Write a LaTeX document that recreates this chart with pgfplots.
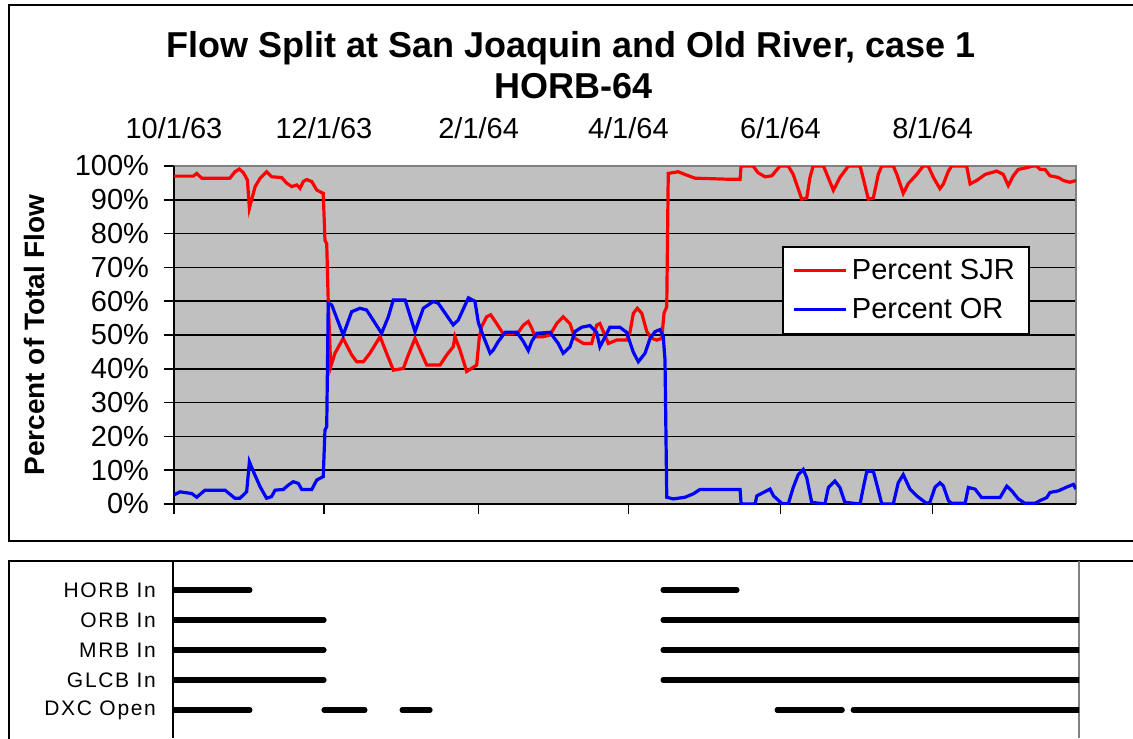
\documentclass[border=0pt]{standalone}
\usepackage{fontspec}
\setmainfont{Liberation Sans}
\newfontfamily\spaced[LetterSpace=8]{Liberation Sans}
\usepackage{pgfplots}
\pgfplotsset{compat=1.18}
\usepackage{pgfplotstable}
\definecolor{plotgray}{RGB}{192,192,192}
\definecolor{bordergray}{RGB}{128,128,128}

\pgfplotstableread{
day sjr
0.88 97.0
8.6 97.0
10.0 97.8
12.0 96.4
23.3 96.4
25.3 98.3
27.1 99.1
28.7 98.0
30.3 95.9
31.1 87.5
32.0 90.0
33.4 93.9
35.4 96.4
38.0 98.3
40.0 96.8
44.0 96.6
46.1 94.9
48.1 93.9
50.1 94.4
51.4 93.4
52.7 95.4
54.1 96.0
56.1 95.4
58.1 92.9
60.7 91.9
61.4 78.0
62.1 77.0
62.7 60.0
63.7 40.6
65.4 44.6
68.7 49.0
72.1 44.1
74.1 42.1
76.8 42.1
79.4 44.6
83.5 49.5
86.1 44.6
88.8 39.6
92.8 40.1
94.8 44.1
97.5 49.0
99.5 45.6
102.2 41.1
107.5 41.1
110.2 44.1
112.8 46.5
113.5 49.5
115.5 45.6
118.2 39.2
122.2 41.1
123.3 49.5
124.2 52.5
126.2 55.4
127.8 56.0
130.2 53.4
132.9 50.3
135.6 50.3
138.9 50.8
140.9 52.9
142.9 54.0
144.3 52.0
145.6 49.5
148.9 49.5
151.6 50.0
154.3 53.4
156.9 55.4
159.6 53.4
161.6 49.0
165.0 47.5
168.3 47.5
170.3 52.9
171.6 53.4
173.0 51.0
175.0 47.5
178.3 48.5
182.3 48.5
183.7 51.0
185.0 56.4
186.6 57.9
188.4 56.4
190.4 51.0
192.4 49.0
194.4 48.5
196.4 49.0
197.3 56.4
198.4 58.4
199.0 97.8
203.0 98.3
206.4 97.3
209.7 96.4
222.4 96.1
227.8 96.1
228.2 100
233.0 100
235.0 98.0
237.8 96.8
240.5 97.1
243.8 100
247.1 100
249.1 97.5
252.5 90.2
254.5 90.5
255.8 96.6
257.1 100
261.2 100
262.5 97.7
265.2 92.8
267.8 96.6
271.2 100
275.9 100
277.2 96.2
279.2 90.2
281.2 90.5
283.2 97.6
284.6 100
289.2 100
290.6 97.6
293.2 91.9
295.2 94.8
298.6 97.5
301.2 100
303.2 100
305.3 96.6
307.9 93.3
309.3 94.7
311.3 98.5
312.6 100
318.6 100
320.0 94.7
322.6 95.7
326.0 97.5
330.7 98.5
333.3 97.5
335.3 94.2
337.3 97.1
339.3 99.0
342.0 99.4
345.3 100
346.7 100
348.0 99.0
350.0 99.0
352.0 97.1
355.4 96.6
357.4 95.7
360.0 95.2
362.45 95.7
}\sjrdata

\pgfplotstableread{
day or
0.88 2.7
3.3 3.6
8.0 3.1
10.0 2.0
13.3 4.1
21.3 4.1
25.3 1.7
27.3 1.7
30.0 3.6
31.1 12.5
32.7 9.6
35.4 5.1
38.0 1.7
40.0 2.2
41.4 4.1
44.7 4.3
46.7 5.6
48.7 6.6
50.7 6.1
52.1 4.3
56.1 4.3
58.1 7.1
60.7 8.1
61.4 21.9
62.1 22.9
62.7 59.4
64.1 58.9
68.7 50.0
72.1 56.9
75.4 57.9
78.1 57.4
84.1 50.5
86.8 55.4
88.8 60.4
93.5 60.4
97.5 51.0
100.8 57.9
104.8 59.9
106.8 59.4
112.8 53.0
114.8 54.4
118.9 61.0
121.5 60.0
122.9 53.6
124.9 49.6
127.6 44.6
128.9 45.6
130.9 48.1
133.6 50.8
138.3 50.8
140.9 48.1
142.9 45.4
144.3 48.1
146.3 50.5
151.6 50.8
154.9 47.5
156.9 44.6
159.6 46.5
161.6 51.0
164.3 52.3
167.6 52.8
170.3 50.8
171.6 46.5
173.0 48.5
175.6 52.3
179.6 52.3
182.3 50.8
185.0 44.9
187.0 42.1
189.7 44.6
191.7 49.0
193.7 51.0
195.7 51.6
197.0 49.5
197.7 42.6
198.4 2.0
201.0 1.5
205.7 2.0
209.0 3.0
211.7 4.3
227.8 4.3
228.2 0
233.8 0
234.5 2.4
237.1 3.4
239.8 4.4
241.2 2.4
244.5 0.2
247.1 0
249.1 4.9
251.1 8.7
253.1 10.2
254.5 7.8
256.5 0.5
261.8 0
263.2 4.9
265.8 6.8
267.8 4.9
269.8 0.5
275.9 0
277.2 4.9
278.6 9.7
281.2 9.7
282.6 5.8
284.6 0
289.2 0
291.2 6.3
293.2 8.7
295.9 4.4
298.6 2.4
302.5 0.2
303.9 0.5
305.9 4.9
307.9 6.3
309.3 5.3
311.3 1.0
312.6 0.2
318.0 0.2
319.3 4.9
322.0 4.4
324.6 1.9
332.0 1.9
334.7 5.3
336.7 3.9
339.3 1.5
342.0 0.2
346.0 0.2
348.0 1.0
350.7 1.9
352.0 3.4
355.4 3.9
358.7 5.0
361.4 5.8
362.45 4.4
}\ordata

\begin{document}
\begin{tikzpicture}
\useasboundingbox (0,0) rectangle (566.5pt,-369pt);
\begin{scope}
\clip (0,0) rectangle (566.5pt,-369pt);
\draw[black, line width=1pt] (4.5pt,-2.5pt) rectangle (580pt,-270.5pt);
\draw[black, line width=1pt] (4.5pt,-280.5pt) rectangle (580pt,-380pt);
\end{scope}
\node[font=\fontsize{18}{20}\selectfont\bfseries, anchor=base] at (285.5pt,-29pt) {Flow Split at San Joaquin and Old River, case 1};
\node[font=\fontsize{18}{20}\selectfont\bfseries, anchor=base] at (287pt,-49pt) {HORB-64};

\begin{axis}[
  at={(87pt,-252pt)}, anchor=south west,
  scale only axis, width=451pt, height=169pt,
  xmin=0.88, xmax=362.45, ymin=0, ymax=100,
  xtick={0.88,61,123,183,244,305},
  xticklabels={10/1/63,12/1/63,2/1/64,4/1/64,6/1/64,8/1/64},
  xtick pos=left, xticklabel pos=right,
  ytick={0,10,20,30,40,50,60,70,80,90,100},
  yticklabels={0\%,10\%,20\%,30\%,40\%,50\%,60\%,70\%,80\%,90\%,100\%},
  ytick pos=left,
  tick align=outside, major tick length=5pt,
  tick style={black, line width=0.8pt},
  ymajorgrids, grid style={black, line width=0.8pt},
  axis line style={draw=none},
  axis background/.style={fill=plotgray},
  clip mode=individual,
  tick label style={font=\fontsize{14.5}{16}\selectfont},
  xticklabel style={anchor=base, yshift=9pt},
  yticklabel style={xshift=-4pt},
  ylabel={Percent of Total Flow},
  ylabel style={font=\fontsize{14}{16}\selectfont\bfseries, at={(axis description cs:-0.1552,0.5)}, anchor=center},
  legend style={at={(rel axis cs:0.674,0.763)}, anchor=north west, draw=black, line width=0.8pt, fill=white,
    font=\fontsize{14.5}{16}\selectfont, inner xsep=5pt, inner ysep=4pt, row sep=4pt,
    /tikz/every even column/.append style={column sep=5pt}},
  legend cell align=left,
  legend image code/.code={\draw[#1] (0pt,0pt) -- (26pt,0pt);},
]
\draw[bordergray, line width=0.8pt] (rel axis cs:0,1) -- (rel axis cs:1,1) -- (rel axis cs:1,0);
\draw[black, line width=0.8pt] (rel axis cs:0,1) -- (rel axis cs:0,0) -- (rel axis cs:1,0);
\addplot[red, line width=1.6pt] table[x=day,y=sjr] {\sjrdata};
\addlegendentry{Percent SJR}
\addplot[blue, line width=1.6pt] table[x=day,y=or] {\ordata};
\addlegendentry{Percent OR}
\end{axis}

\begin{axis}[
  at={(86.5pt,-369pt)}, anchor=south west,
  scale only axis, width=453pt, height=88.5pt,
  xmin=0.48, xmax=363.6, ymin=-738, ymax=-561,
  xtick=\empty,
  ytick={-710,-680,-650,-620,-590},
  yticklabels={DXC Open,GLCB In,MRB In,ORB In,HORB In},
  major tick length=0pt,
  axis line style={draw=none},
  yticklabel style={font=\fontsize{10.5}{12}\spaced, xshift=-5pt},
  unbounded coords=jump, clip mode=individual,
]
\draw[black, line width=0.8pt] (rel axis cs:0,0) -- (rel axis cs:0,1);
\draw[bordergray, line width=0.8pt] (rel axis cs:1,0) -- (rel axis cs:1,1);
\addplot[black, line width=2.6pt, line cap=round] coordinates {(0.48,-590) (31.3,-590) (nan,nan) (196.9,-590) (226.5,-590)};
\addplot[black, line width=2.6pt, line cap=round] coordinates {(0.48,-620) (61.0,-620) (nan,nan) (196.9,-620) (363.6,-620)};
\addplot[black, line width=2.6pt, line cap=round] coordinates {(0.48,-650) (61.0,-650) (nan,nan) (196.9,-650) (363.6,-650)};
\addplot[black, line width=2.6pt, line cap=round] coordinates {(0.48,-680) (61.0,-680) (nan,nan) (196.9,-680) (363.6,-680)};
\addplot[black, line width=2.6pt, line cap=round] coordinates {(0.48,-710) (31.3,-710) (nan,nan) (61.0,-710) (77.4,-710) (nan,nan) (92.3,-710) (103.5,-710) (nan,nan) (242.6,-710) (268.7,-710) (nan,nan) (273.1,-710) (363.6,-710)};
\end{axis}
\end{tikzpicture}
\end{document}
